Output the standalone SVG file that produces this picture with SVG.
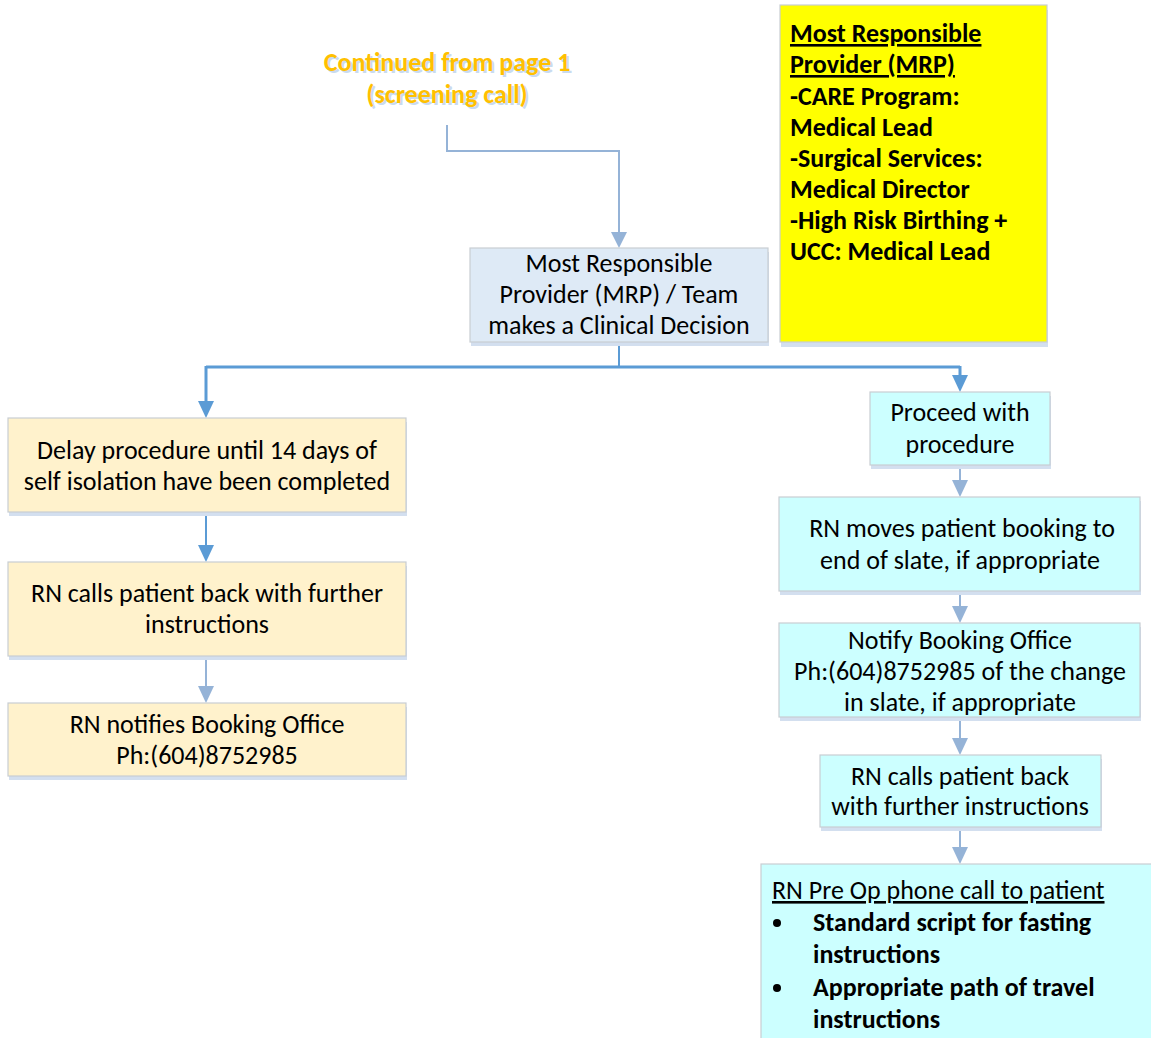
<svg xmlns="http://www.w3.org/2000/svg" width="1151" height="1038" viewBox="0 0 1151 1038">
<style>
text{font-family:Carlito,Lato,"Liberation Sans",sans-serif;font-size:26px;fill:#000}
.c{text-anchor:middle}
.b{font-weight:bold}
.u{text-decoration:underline}
.sh{fill:#D3DFEF}
.bx{stroke:#C8CDD3;stroke-width:1.2}
.blue{fill:#DEEAF6}
.tan{fill:#FFF2CC}
.cyan{fill:#CCFFFF}
.yel{fill:#FFFF00}
.cn{fill:none;stroke-width:2}
.l1{stroke:#95B3D7}
.l2{stroke:#5B9BD5}
.org{fill:#FFC000;font-weight:bold}
.orgsh{fill:#C9DBF0;font-weight:bold}
</style>
<rect width="1151" height="1038" fill="#fff"/>

<g id="connectors">
<path class="cn l1" d="M447,125 V151 H619 V232"/>
<path d="M611,232 L627,232 L619,248 z" fill="#95B3D7"/>
<path class="cn l2" d="M619,342 V366"/>
<path class="cn l2" style="stroke-width:3" d="M206,367 H960"/>
<path class="cn l2" style="stroke-width:3" d="M206,366 V402"/>
<path d="M198,401 L214,401 L206,418 z" fill="#5B9BD5"/>
<path class="cn l2" style="stroke-width:3" d="M960,366 V376"/>
<path d="M952,375 L968,375 L960,392 z" fill="#5B9BD5"/>
<path class="cn l2" d="M206,512 V546"/>
<path d="M198,545 L214,545 L206,562 z" fill="#5B9BD5"/>
<path class="cn l1" d="M206,656 V687"/>
<path d="M198,686 L214,686 L206,703 z" fill="#95B3D7"/>
<path class="cn l1" d="M960,465 V481"/>
<path d="M952,480 L968,480 L960,497 z" fill="#95B3D7"/>
<path class="cn l1" d="M960,591 V607"/>
<path d="M952,606 L968,606 L960,623 z" fill="#95B3D7"/>
<path class="cn l1" d="M960,717 V739"/>
<path d="M952,738 L968,738 L960,755 z" fill="#95B3D7"/>
<path class="cn l1" d="M960,827 V848"/>
<path d="M952,847 L968,847 L960,864 z" fill="#95B3D7"/>
</g>

<g id="continued">
<text class="c orgsh" x="449" y="73">Continued from page 1</text>
<text class="c orgsh" x="449" y="105">(screening call)</text>
<text class="c org" x="447" y="71">Continued from page 1</text>
<text class="c org" x="447" y="103">(screening call)</text>
</g>

<g id="mrp-legend">
<rect class="sh" x="781" y="10" width="267" height="337"/>
<rect class="yel bx" x="780" y="5" width="267" height="337"/>
<text class="b u" x="790" y="42">Most Responsible</text>
<text class="b u" x="790" y="73">Provider (MRP)</text>
<text class="b" x="790" y="105">-CARE Program:</text>
<text class="b" x="790" y="136">Medical Lead</text>
<text class="b" x="790" y="167">-Surgical Services:</text>
<text class="b" x="790" y="198">Medical Director</text>
<text class="b" x="790" y="229">-High Risk Birthing +</text>
<text class="b" x="790" y="260">UCC: Medical Lead</text>
</g>

<g id="decision">
<rect class="sh" x="471" y="252" width="298" height="94"/>
<rect class="blue bx" x="470" y="248" width="298" height="94"/>
<text class="c" x="619" y="272">Most Responsible</text>
<text class="c" x="619" y="303">Provider (MRP) / Team</text>
<text class="c" x="619" y="334">makes a Clinical Decision</text>
</g>

<g id="delay">
<rect class="sh" x="9" y="422" width="398" height="94"/>
<rect class="tan bx" x="8" y="418" width="398" height="94"/>
<text class="c" x="207" y="459">Delay procedure until 14 days of</text>
<text class="c" x="207" y="490">self isolation have been completed</text>
</g>

<g id="calls-back-left">
<rect class="sh" x="9" y="566" width="398" height="94"/>
<rect class="tan bx" x="8" y="562" width="398" height="94"/>
<text class="c" x="207" y="602">RN calls patient back with further</text>
<text class="c" x="207" y="633">instructions</text>
</g>

<g id="notify-left">
<rect class="sh" x="9" y="707" width="398" height="73"/>
<rect class="tan bx" x="8" y="703" width="398" height="73"/>
<text class="c" x="207" y="733">RN notifies Booking Office</text>
<text class="c" x="207" y="764">Ph:(604)8752985</text>
</g>

<g id="proceed">
<rect class="sh" x="871" y="396" width="180" height="73"/>
<rect class="cyan bx" x="870" y="392" width="180" height="73"/>
<text class="c" x="960" y="421">Proceed with</text>
<text class="c" x="960" y="453">procedure</text>
</g>

<g id="moves-booking">
<rect class="sh" x="780" y="501" width="361" height="94"/>
<rect class="cyan bx" x="779" y="497" width="361" height="94"/>
<text class="c" x="962" y="537">RN moves patient booking to</text>
<text class="c" x="960" y="569">end of slate, if appropriate</text>
</g>

<g id="notify-right">
<rect class="sh" x="780" y="627" width="361" height="94"/>
<rect class="cyan bx" x="779" y="623" width="361" height="94"/>
<text class="c" x="960" y="649">Notify Booking Office</text>
<text class="c" x="960" y="680">Ph:(604)8752985 of the change</text>
<text class="c" x="960" y="711">in slate, if appropriate</text>
</g>

<g id="calls-back-right">
<rect class="sh" x="821" y="759" width="281" height="72"/>
<rect class="cyan bx" x="820" y="755" width="281" height="72"/>
<text class="c" x="960" y="785">RN calls patient back</text>
<text class="c" x="960" y="815">with further instructions</text>
</g>

<g id="pre-op">
<rect class="cyan bx" x="761" y="864" width="395" height="180"/>
<text class="u" x="772" y="899">RN Pre Op phone call to patient</text>
<circle cx="777" cy="923" r="4"/>
<text class="b" x="813" y="931">Standard script for fasting</text>
<text class="b" x="813" y="963">instructions</text>
<circle cx="777" cy="988" r="4"/>
<text class="b" x="813" y="996">Appropriate path of travel</text>
<text class="b" x="813" y="1028">instructions</text>
</g>
</svg>
